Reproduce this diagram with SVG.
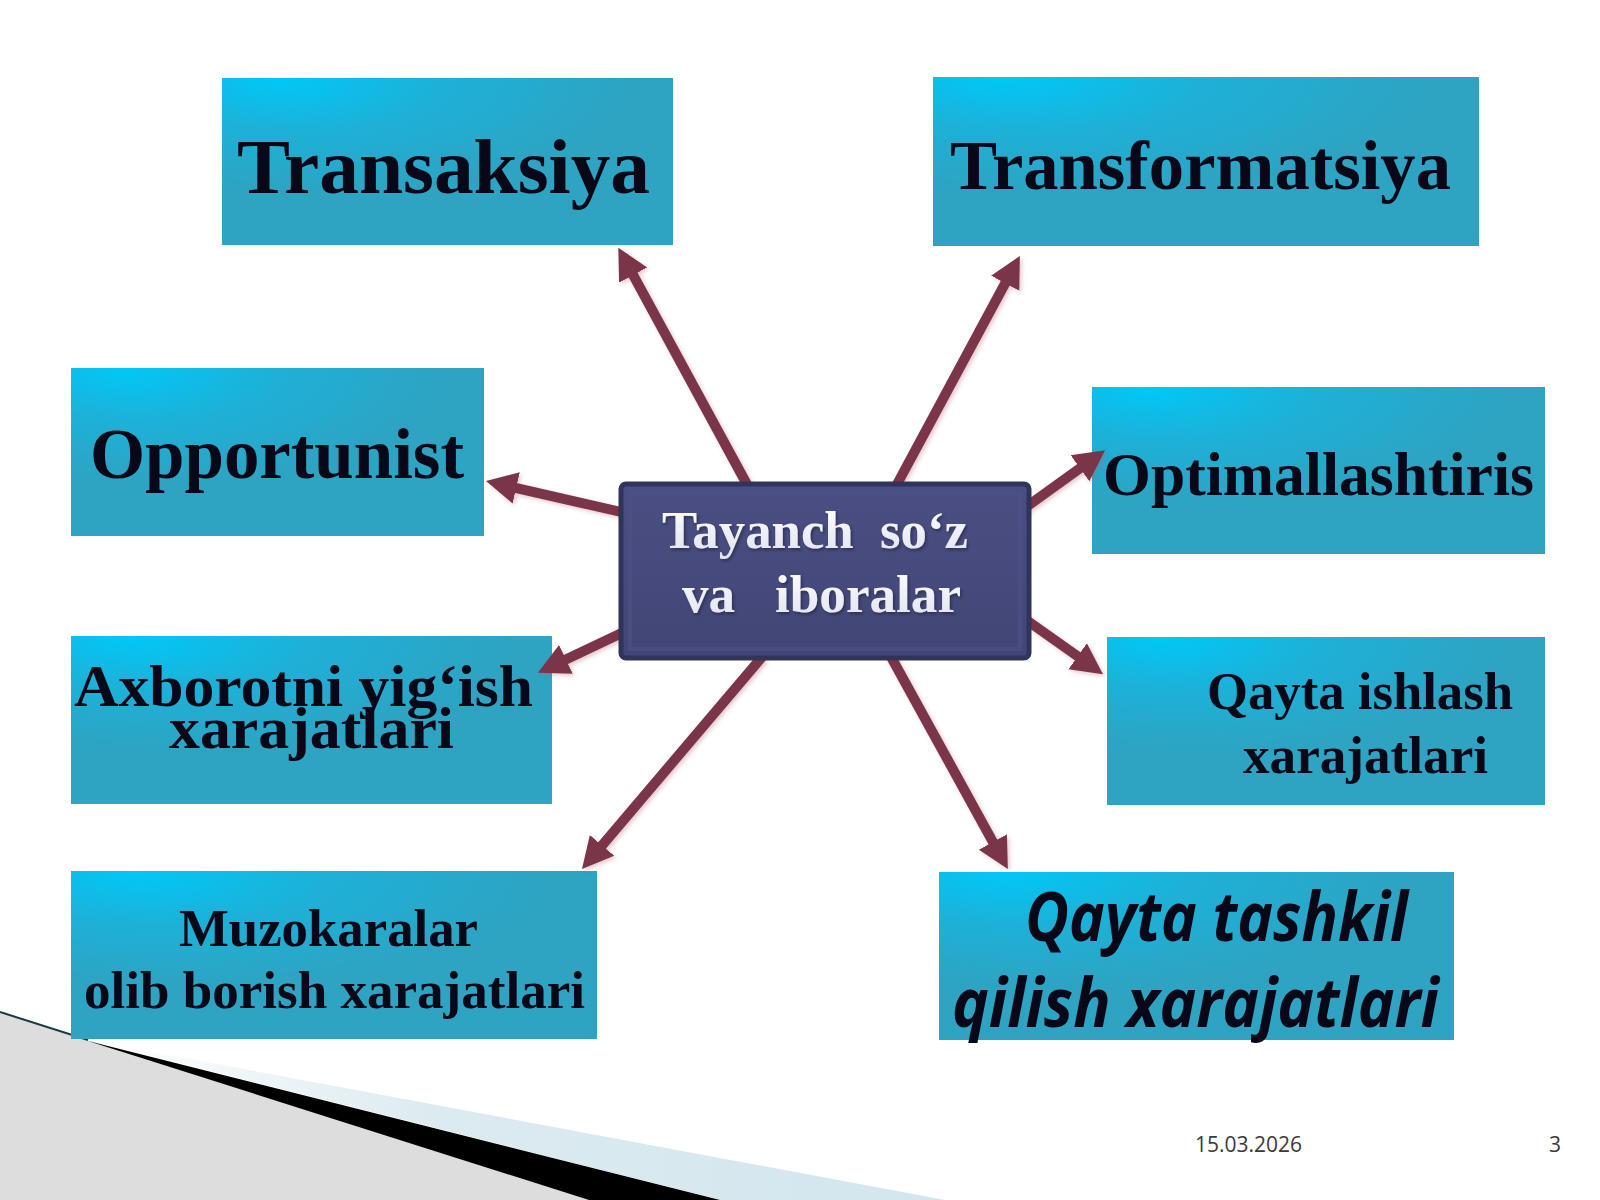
<svg xmlns="http://www.w3.org/2000/svg" width="1600" height="1200" viewBox="0 0 1600 1200">
<defs>
<radialGradient id="boxg" cx="0.22" cy="0" r="0.7" fx="0.12" fy="0">
<stop offset="0" stop-color="#00c8f7"/>
<stop offset="0.45" stop-color="#1db1d8"/>
<stop offset="1" stop-color="#2ea3c2"/>
</radialGradient>
<linearGradient id="cg" x1="0" y1="0" x2="0" y2="1">
<stop offset="0" stop-color="#4a4e82"/>
<stop offset="1" stop-color="#424676"/>
</linearGradient>
<linearGradient id="blueband" x1="0" y1="0" x2="1" y2="0">
<stop offset="0" stop-color="#ffffff"/>
<stop offset="0.4" stop-color="#dcebf0"/>
<stop offset="1" stop-color="#d2e6ed"/>
</linearGradient>
<linearGradient id="wtext" x1="0" y1="0" x2="0" y2="1">
<stop offset="0" stop-color="#ffffff"/>
<stop offset="1" stop-color="#dfe2f0"/>
</linearGradient>
<filter id="ashadow" x="-20%" y="-20%" width="140%" height="140%">
<feDropShadow dx="2" dy="2" stdDeviation="2" flood-color="#b06070" flood-opacity="0.35"/>
</filter>
<filter id="tshadow" x="-5%" y="-20%" width="110%" height="140%">
<feDropShadow dx="1.5" dy="2" stdDeviation="1.5" flood-color="#000000" flood-opacity="0.35"/>
</filter>
<marker id="ah" markerUnits="userSpaceOnUse" markerWidth="34" markerHeight="34" viewBox="0 -17 34 34" refX="3" refY="0" orient="auto">
<path d="M0,-16 L31,0 L0,16 Z" fill="#7a3649"/>
</marker>
</defs>
<style>
.box{fill:url(#boxg);}
.bt{font-family:"Liberation Serif","Times New Roman",serif;font-weight:bold;fill:#080818;}
.it{font-family:"Open Sans","Noto Sans",sans-serif;font-weight:bold;font-style:italic;fill:#080818;}
.ct{font-family:"Liberation Serif","Times New Roman",serif;font-weight:bold;fill:url(#wtext);}
.conn line{stroke:#7a3649;stroke-width:10;marker-end:url(#ah);}
.foot{font-family:"Open Sans","Noto Sans",sans-serif;font-size:21px;fill:#3a3a3a;}
</style>
<rect x="0" y="0" width="1600" height="1200" fill="#ffffff"/>
<g id="decoration">
<polygon points="0,1012 589,1200 0,1200" fill="#dddddd"/>
<polygon points="88,1040 945,1200 720,1200" fill="url(#blueband)"/>
<polygon points="88,1041 720,1200 589,1200" fill="#000000"/>
<line x1="0" y1="1012" x2="88" y2="1040" stroke="#1a3a40" stroke-width="2"/>
</g>
<g id="n-transaksiya">
<rect class="box" x="222" y="78" width="451" height="167"/>
<text class="bt" x="237" y="193" font-size="78" textLength="413" lengthAdjust="spacingAndGlyphs">Transaksiya</text>
</g>
<g id="n-transformatsiya">
<rect class="box" x="933" y="77" width="546" height="169"/>
<text class="bt" x="950" y="189" font-size="70" textLength="501" lengthAdjust="spacingAndGlyphs">Transformatsiya</text>
</g>
<g id="n-opportunist">
<rect class="box" x="71" y="368" width="413" height="168"/>
<text class="bt" x="90" y="478" font-size="72" textLength="374" lengthAdjust="spacingAndGlyphs">Opportunist</text>
</g>
<g id="n-optimallashtiris">
<rect class="box" x="1092" y="387" width="453" height="167"/>
<text class="bt" x="1103" y="495" font-size="62" textLength="431" lengthAdjust="spacingAndGlyphs">Optimallashtiris</text>
</g>
<g id="n-axborot">
<rect class="box" x="71" y="636" width="481" height="168"/>
<text class="bt" x="74" y="706" font-size="60" textLength="459" lengthAdjust="spacingAndGlyphs">Axborotni yig‘ish</text>
<text class="bt" x="169" y="748" font-size="60" textLength="285" lengthAdjust="spacingAndGlyphs">xarajatlari</text>
</g>
<g id="n-qayta-ishlash">
<rect class="box" x="1107" y="637" width="438" height="168"/>
<text class="bt" x="1207" y="709" font-size="52" textLength="306" lengthAdjust="spacingAndGlyphs">Qayta ishlash</text>
<text class="bt" x="1243" y="773" font-size="52" textLength="245" lengthAdjust="spacingAndGlyphs">xarajatlari</text>
</g>
<g id="n-muzokaralar">
<rect class="box" x="71" y="871" width="526" height="168"/>
<text class="bt" x="179" y="946" font-size="52" textLength="299" lengthAdjust="spacingAndGlyphs">Muzokaralar</text>
<text class="bt" x="84" y="1008" font-size="52" textLength="501" lengthAdjust="spacingAndGlyphs">olib borish xarajatlari</text>
</g>
<g id="n-qayta-tashkil">
<rect class="box" x="939" y="872" width="515" height="168"/>
<text class="it" x="1025" y="941" font-size="68" textLength="383" lengthAdjust="spacingAndGlyphs">Qayta tashkil</text>
<text class="it" x="952" y="1027" font-size="68" textLength="487" lengthAdjust="spacingAndGlyphs">qilish xarajatlari</text>
</g>
<g id="connectors" class="conn" filter="url(#ashadow)">
<line x1="750" y1="490" x2="631.7" y2="272.4"/>
<line x1="895" y1="488" x2="1006.6" y2="280.6"/>
<line x1="630" y1="514" x2="513.3" y2="487.3"/>
<line x1="1015" y1="515" x2="1082.4" y2="466.5"/>
<line x1="628" y1="630" x2="563.2" y2="660.7"/>
<line x1="1015" y1="612" x2="1080.1" y2="658"/>
<line x1="762" y1="657" x2="600.1" y2="847.7"/>
<line x1="890" y1="655" x2="994.35" y2="844.55"/>
</g>
<g id="n-center">
<rect x="621" y="484" width="408" height="174" rx="5" fill="url(#cg)" stroke="#30345a" stroke-width="5"/>
<rect x="630" y="493" width="390" height="156" fill="none" stroke="#4e5288" stroke-width="4" opacity="0.6"/>
<text class="ct" x="662" y="548" font-size="52" textLength="306" lengthAdjust="spacingAndGlyphs" filter="url(#tshadow)" xml:space="preserve">Tayanch  so‘z</text>
<text class="ct" x="682" y="612" font-size="52" textLength="279" lengthAdjust="spacingAndGlyphs" filter="url(#tshadow)" xml:space="preserve">va   iboralar</text>
</g>
<g id="footer">
<text class="foot" x="1195" y="1152">15.03.2026</text>
<text class="foot" x="1549" y="1152">3</text>
</g>
</svg>
